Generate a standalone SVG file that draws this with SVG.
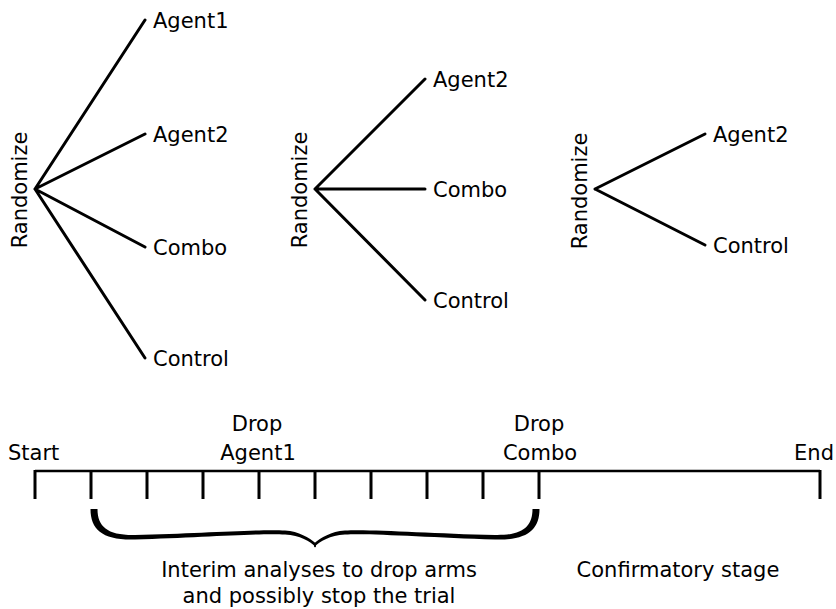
<svg xmlns="http://www.w3.org/2000/svg" width="836" height="609" viewBox="0 0 836 609">
<style>
text{font-family:"DejaVu Sans","Noto Sans",sans-serif;font-size:21px;fill:#000}
.br{stroke:#000;stroke-width:3;fill:none;stroke-linecap:round}
.tl{stroke:#000;stroke-width:2.6;fill:none}
.tk{stroke:#000;stroke-width:3;fill:none}
.mid{text-anchor:middle}
</style>
<rect width="836" height="609" fill="#fff"/>
<g id="connectors">
<path class="br" d="M35,189 L145,20 M35,189 L145,134 M35,189 L145,247 M35,189 L145,358"/>
<path class="br" d="M315,189 L425,79 M315,189 L425,189 M315,189 L425,300"/>
<path class="br" d="M595,189 L705,134 M595,189 L705,245"/>
</g>
<g id="tree1">
<text class="mid" transform="translate(27,190) rotate(-90)">Randomize</text>
<text x="153" y="28">Agent1</text>
<text x="153" y="142">Agent2</text>
<text x="153" y="255">Combo</text>
<text x="153" y="366">Control</text>
</g>
<g id="tree2">
<text class="mid" transform="translate(307,190) rotate(-90)">Randomize</text>
<text x="433" y="87">Agent2</text>
<text x="433" y="197">Combo</text>
<text x="433" y="308">Control</text>
</g>
<g id="tree3">
<text class="mid" transform="translate(587,191) rotate(-90)">Randomize</text>
<text x="713" y="142">Agent2</text>
<text x="713" y="253">Control</text>
</g>
<g id="timeline">
<path class="tl" d="M35,471 H820"/>
<path class="tk" d="M35,470 V499 M91,471 V499 M147,471 V499 M203,471 V499 M259,471 V499 M315,471 V499 M371,471 V499 M427,471 V499 M483,471 V499 M539,471 V499 M820,470 V499"/>
<text x="8" y="460">Start</text>
<text x="834" y="460" text-anchor="end">End</text>
<text class="mid" x="257" y="431">Drop</text>
<text class="mid" x="258" y="460">Agent1</text>
<text class="mid" x="539" y="431">Drop</text>
<text class="mid" x="540" y="460">Combo</text>
</g>
<g id="brace">
<path d="M90.5,509 C90.5,530 103,540.5 135,539.5 C200,537.5 260,533 285,534.5 C300,535.5 310,541 316,547.5 L316,543.5 C309,537.5 299,531.5 285,530.5 C260,529 200,533.5 135,535 C108,535.5 97.5,527 97.5,509 Z"/>
<path d="M539.5,509 C539.5,530 527,540.5 495,539.5 C430,537.5 370,533 345,534.5 C330,535.5 320,541 314,547.5 L314,543.5 C321,537.5 331,531.5 345,530.5 C370,529 430,533.5 495,535 C522,535.5 532.5,527 532.5,509 Z"/>
<text class="mid" x="319" y="577">Interim analyses to drop arms</text>
<text class="mid" x="319" y="603">and possibly stop the trial</text>
</g>
<g id="confirmatory">
<text class="mid" x="678" y="577">Confirmatory stage</text>
</g>
</svg>
